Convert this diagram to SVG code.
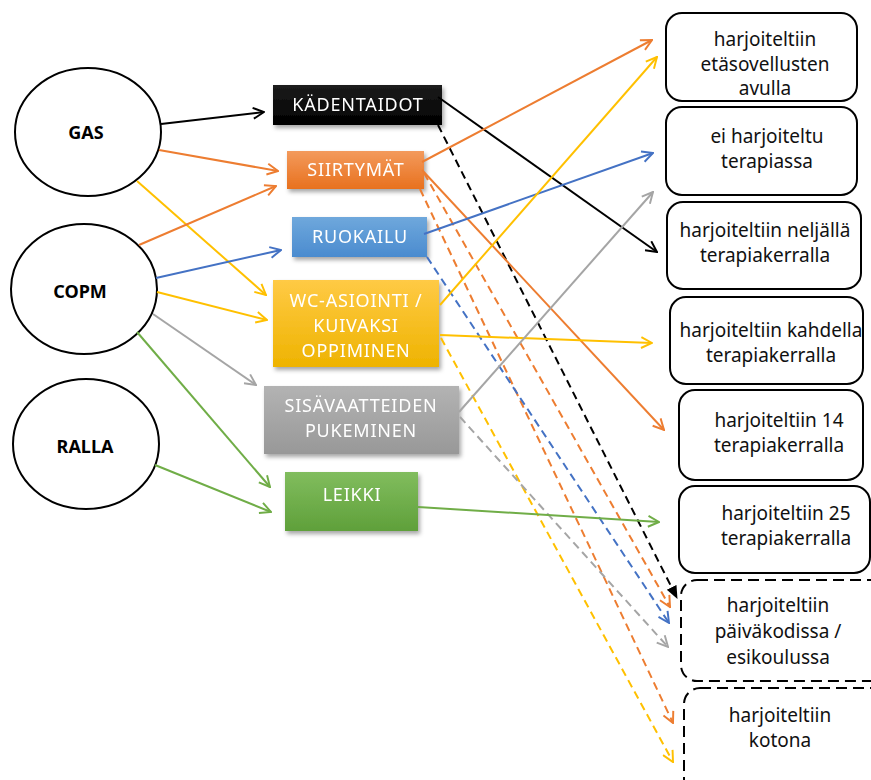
<svg xmlns="http://www.w3.org/2000/svg" width="871" height="780" viewBox="0 0 871 780">
  <style>
    .src { fill: #fff; stroke: #000; stroke-width: 2; }
    .srcT { font-family: "Noto Sans", "Liberation Sans", sans-serif; font-weight: bold; font-size: 18px; fill: #000; text-anchor: middle; }
    .act { filter: url(#shadow); }
    .actT { font-family: "Noto Sans", "Liberation Sans", sans-serif; font-size: 18px; letter-spacing: 0.8px; fill: #fff; text-anchor: middle; }
    .res { fill: #fff; stroke: #000; stroke-width: 2; }
    .resD { fill: #fff; stroke: #000; stroke-width: 2; stroke-dasharray: 11 6; }
    .resT { font-family: "Noto Sans", "Liberation Sans", sans-serif; font-size: 19px; fill: #111; text-anchor: middle; }
    .c { fill: none; stroke-width: 2; }
    .d { stroke-dasharray: 8 5; }
    .k { stroke: #000; }
    .o { stroke: #ED7D31; }
    .y { stroke: #FFC000; }
    .b { stroke: #4472C4; }
    .g { stroke: #A5A5A5; }
    .gr { stroke: #70AD47; }
  </style>
  <defs>
    <filter id="shadow" x="-10%" y="-20%" width="130%" height="150%">
      <feDropShadow dx="2" dy="3" stdDeviation="2" flood-color="#000" flood-opacity="0.35"/>
    </filter>
    <linearGradient id="gK" x1="0" y1="0" x2="0" y2="1"><stop offset="0" stop-color="#1c1c1c"/><stop offset="1" stop-color="#000"/></linearGradient>
    <linearGradient id="gO" x1="0" y1="0" x2="0" y2="1"><stop offset="0" stop-color="#F39A5C"/><stop offset="1" stop-color="#E8711E"/></linearGradient>
    <linearGradient id="gB" x1="0" y1="0" x2="0" y2="1"><stop offset="0" stop-color="#6FA8DC"/><stop offset="1" stop-color="#4A8BCF"/></linearGradient>
    <linearGradient id="gY" x1="0" y1="0" x2="0" y2="1"><stop offset="0" stop-color="#FFCA45"/><stop offset="1" stop-color="#EEB300"/></linearGradient>
    <linearGradient id="gG" x1="0" y1="0" x2="0" y2="1"><stop offset="0" stop-color="#B3B3B3"/><stop offset="1" stop-color="#989898"/></linearGradient>
    <linearGradient id="gGr" x1="0" y1="0" x2="0" y2="1"><stop offset="0" stop-color="#81BD5E"/><stop offset="1" stop-color="#5FA03A"/></linearGradient>
    <marker id="aK" viewBox="0 0 12 12" refX="11" refY="6" markerWidth="13" markerHeight="13" markerUnits="userSpaceOnUse" orient="auto"><path d="M1,1 L11,6 L1,11" fill="none" stroke="#000" stroke-width="1.8"/></marker>
    <marker id="aKf" viewBox="0 0 12 12" refX="11" refY="6" markerWidth="13" markerHeight="13" markerUnits="userSpaceOnUse" orient="auto"><path d="M0,1 L12,6 L0,11 Z" fill="#000"/></marker>
    <marker id="aO" viewBox="0 0 12 12" refX="11" refY="6" markerWidth="13" markerHeight="13" markerUnits="userSpaceOnUse" orient="auto"><path d="M1,1 L11,6 L1,11" fill="none" stroke="#ED7D31" stroke-width="1.8"/></marker>
    <marker id="aY" viewBox="0 0 12 12" refX="11" refY="6" markerWidth="13" markerHeight="13" markerUnits="userSpaceOnUse" orient="auto"><path d="M1,1 L11,6 L1,11" fill="none" stroke="#FFC000" stroke-width="1.8"/></marker>
    <marker id="aB" viewBox="0 0 12 12" refX="11" refY="6" markerWidth="13" markerHeight="13" markerUnits="userSpaceOnUse" orient="auto"><path d="M1,1 L11,6 L1,11" fill="none" stroke="#4472C4" stroke-width="1.8"/></marker>
    <marker id="aG" viewBox="0 0 12 12" refX="11" refY="6" markerWidth="13" markerHeight="13" markerUnits="userSpaceOnUse" orient="auto"><path d="M1,1 L11,6 L1,11" fill="none" stroke="#A5A5A5" stroke-width="1.8"/></marker>
    <marker id="aGr" viewBox="0 0 12 12" refX="11" refY="6" markerWidth="13" markerHeight="13" markerUnits="userSpaceOnUse" orient="auto"><path d="M1,1 L11,6 L1,11" fill="none" stroke="#70AD47" stroke-width="1.8"/></marker>
  </defs>

  <!-- assessment methods -->
  <g id="gas"><ellipse class="src" cx="88" cy="132" rx="73" ry="64"/><text class="srcT" x="86" y="139">GAS</text></g>
  <g id="copm"><ellipse class="src" cx="84" cy="289" rx="73" ry="65"/><text class="srcT" x="80" y="298">COPM</text></g>
  <g id="ralla"><ellipse class="src" cx="86" cy="444" rx="73" ry="65"/><text class="srcT" x="85" y="453">RALLA</text></g>

  <!-- practised skills -->
  <g id="kadentaidot" class="act"><rect x="273" y="85" width="169" height="40" fill="url(#gK)"/><text class="actT" x="358" y="111">KÄDENTAIDOT</text></g>
  <g id="siirtymat" class="act"><rect x="287" y="151" width="137" height="38" fill="url(#gO)"/><text class="actT" x="356" y="176">SIIRTYMÄT</text></g>
  <g id="ruokailu" class="act"><rect x="292" y="217" width="135" height="40" fill="url(#gB)"/><text class="actT" x="360" y="243">RUOKAILU</text></g>
  <g id="wc" class="act"><rect x="273" y="280" width="166" height="87" fill="url(#gY)"/>
    <text class="actT" x="356" y="307">WC-ASIOINTI /</text>
    <text class="actT" x="356" y="332">KUIVAKSI</text>
    <text class="actT" x="356" y="357">OPPIMINEN</text></g>
  <g id="sisavaatteet" class="act"><rect x="264" y="386" width="195" height="68" fill="url(#gG)"/>
    <text class="actT" x="361" y="412">SISÄVAATTEIDEN</text>
    <text class="actT" x="361" y="437">PUKEMINEN</text></g>
  <g id="leikki" class="act"><rect x="285" y="472" width="133" height="59" fill="url(#gGr)"/><text class="actT" x="352" y="501">LEIKKI</text></g>

  <!-- how the practice took place -->
  <g id="etasovellus"><rect class="res" x="666" y="13" width="191" height="88" rx="16"/>
    <text class="resT" x="765" y="46">harjoiteltiin</text>
    <text class="resT" x="765" y="71">etäsovellusten</text>
    <text class="resT" x="765" y="95">avulla</text></g>
  <g id="ei-terapiassa"><rect class="res" x="666" y="107" width="191" height="88" rx="16"/>
    <text class="resT" x="767" y="143">ei harjoiteltu</text>
    <text class="resT" x="767" y="168">terapiassa</text></g>
  <g id="nelja"><rect class="res" x="667" y="202" width="194" height="87" rx="16"/>
    <text class="resT" x="765" y="237">harjoiteltiin neljällä</text>
    <text class="resT" x="765" y="262">terapiakerralla</text></g>
  <g id="kaksi"><rect class="res" x="670" y="297" width="193" height="87" rx="16"/>
    <text class="resT" x="771" y="337">harjoiteltiin kahdella</text>
    <text class="resT" x="771" y="362">terapiakerralla</text></g>
  <g id="neljatoista"><rect class="res" x="679" y="390" width="184" height="90" rx="16"/>
    <text class="resT" x="779" y="427">harjoiteltiin 14</text>
    <text class="resT" x="779" y="452">terapiakerralla</text></g>
  <g id="kaksikymmentaviisi"><rect class="res" x="679" y="486" width="191" height="87" rx="16"/>
    <text class="resT" x="786" y="520">harjoiteltiin 25</text>
    <text class="resT" x="786" y="545">terapiakerralla</text></g>
  <g id="paivakoti"><rect class="resD" x="681" y="580" width="205" height="101" rx="16"/>
    <text class="resT" x="778" y="612">harjoiteltiin</text>
    <text class="resT" x="778" y="638">päiväkodissa /</text>
    <text class="resT" x="778" y="664">esikoulussa</text></g>
  <g id="koti"><rect class="resD" x="684" y="688" width="205" height="110" rx="16"/>
    <text class="resT" x="780" y="722">harjoiteltiin</text>
    <text class="resT" x="780" y="747">kotona</text></g>

  <!-- connectors -->
  <g id="connectors">
    <!-- from methods -->
    <line class="c k" x1="161" y1="124" x2="264" y2="112" marker-end="url(#aK)"/>
    <line class="c o" x1="159" y1="150" x2="278" y2="171" marker-end="url(#aO)"/>
    <line class="c y" x1="137" y1="181" x2="266" y2="295" marker-end="url(#aY)"/>
    <line class="c o" x1="139" y1="245" x2="276" y2="186" marker-end="url(#aO)"/>
    <line class="c b" x1="156" y1="278" x2="281" y2="250" marker-end="url(#aB)"/>
    <line class="c y" x1="157" y1="292" x2="267" y2="320" marker-end="url(#aY)"/>
    <line class="c g" x1="153" y1="314" x2="256" y2="385" marker-end="url(#aG)"/>
    <line class="c gr" x1="137" y1="332" x2="270" y2="487" marker-end="url(#aGr)"/>
    <line class="c gr" x1="155" y1="465" x2="271" y2="512" marker-end="url(#aGr)"/>
    <!-- from skills -->
    <line class="c k" x1="438" y1="97" x2="657" y2="252" marker-end="url(#aK)"/>
    <line class="c k d" x1="438" y1="125" x2="677" y2="598" marker-end="url(#aKf)"/>
    <line class="c o" x1="422" y1="162" x2="652" y2="40" marker-end="url(#aO)"/>
    <line class="c o" x1="422" y1="170" x2="664" y2="430" marker-end="url(#aO)"/>
    <line class="c o d" x1="424" y1="173" x2="670" y2="607" marker-end="url(#aO)"/>
    <line class="c o d" x1="420" y1="189" x2="673" y2="723" marker-end="url(#aO)"/>
    <line class="c b" x1="424" y1="234" x2="653" y2="153" marker-end="url(#aB)"/>
    <line class="c b d" x1="427" y1="257" x2="669" y2="623" marker-end="url(#aB)"/>
    <line class="c y" x1="440" y1="305" x2="657" y2="57" marker-end="url(#aY)"/>
    <line class="c y" x1="440" y1="335" x2="652" y2="343" marker-end="url(#aY)"/>
    <line class="c y d" x1="441" y1="338" x2="673" y2="762" marker-end="url(#aY)"/>
    <line class="c g" x1="459" y1="412" x2="653" y2="192" marker-end="url(#aG)"/>
    <line class="c g d" x1="460" y1="417" x2="668" y2="647" marker-end="url(#aG)"/>
    <line class="c gr" x1="418" y1="507" x2="659" y2="522" marker-end="url(#aGr)"/>
  </g>
</svg>
